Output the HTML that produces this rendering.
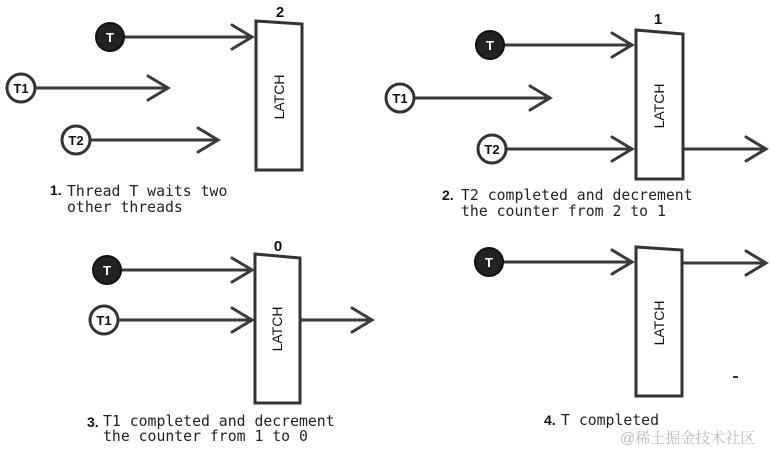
<!DOCTYPE html>
<html><head><style>
body{margin:0;background:#fff;}
svg{display:block}
.m{font-family:"DejaVu Sans Mono","Liberation Mono",monospace;font-size:14.8px;fill:#222}
.n{font-family:"Liberation Sans",sans-serif;font-weight:bold;font-size:15px;fill:#111}
.c{font-family:"Liberation Sans",sans-serif;font-weight:bold;font-size:13px}
.l{font-family:"Liberation Sans",sans-serif;font-size:14px;fill:#111}
</style></head><body>
<svg width="770" height="452" viewBox="0 0 770 452" xmlns="http://www.w3.org/2000/svg">
<defs>
<g id="dk"><circle r="14" fill="#222" stroke="#111" stroke-width="2"/><text class="c" fill="#fff" text-anchor="middle" y="5">T</text></g>
</defs>
<g stroke="#3a3a3a" stroke-width="3" fill="none" stroke-linecap="round">
<path d="M124 37H252M232 25L252 37L232 49"/>
<path d="M35 88H168M148 76L168 88L148 100"/>
<path d="M90 140H218M198 128L218 140L198 152"/>
<path d="M504 45H632M612 33L632 45L612 57"/>
<path d="M414 98H550M530 86L550 98L530 110"/>
<path d="M506 149H632M612 137L632 149L612 161"/>
<path d="M685 149H766M746 137L766 149L746 161"/>
<path d="M121 270H252M232 258L252 270L232 282"/>
<path d="M118 320H252M232 308L252 320L232 332"/>
<path d="M301 320H372M352 308L372 320L352 332"/>
<path d="M503 262H632M612 250L632 262L612 274"/>
<path d="M684 263H766M746 251L766 263L746 275"/>
</g>
<g fill="#fff" stroke="#333" stroke-width="3">
<polygon points="256,21 302,24 302,170 256,170"/>
<polygon points="636,30 683,34 683,179 636,179"/>
<polygon points="255,254 300,258 300,403 255,403"/>
<polygon points="636,247 682,250 682,396 636,396"/>
</g>
<g fill="#fff" stroke="#333" stroke-width="3">
<circle cx="21" cy="88" r="14"/><circle cx="76" cy="140" r="14"/>
<circle cx="400" cy="98" r="14"/><circle cx="492" cy="149" r="14"/>
<circle cx="104" cy="320" r="14"/>
</g>
<g class="c" fill="#111" text-anchor="middle">
<text x="21" y="93">T1</text><text x="76" y="145">T2</text>
<text x="400" y="103">T1</text><text x="492" y="154">T2</text>
<text x="104" y="325">T1</text>
</g>
<use href="#dk" x="110" y="37"/><use href="#dk" x="490" y="45"/>
<use href="#dk" x="107" y="270"/><use href="#dk" x="489" y="262"/>
<g class="n" text-anchor="middle">
<text x="280" y="17">2</text><text x="658" y="24">1</text><text x="278" y="251">0</text>
</g>
<g class="l" text-anchor="middle">
<text transform="translate(284,97) rotate(-90)">LATCH</text>
<text transform="translate(664,106) rotate(-90)">LATCH</text>
<text transform="translate(282,329) rotate(-90)">LATCH</text>
<text transform="translate(664,323) rotate(-90)">LATCH</text>
</g>
<g class="n" style="font-size:14px">
<text x="50" y="195">1.</text><text x="442" y="200">2.</text>
<text x="87" y="427">3.</text><text x="544" y="425">4.</text>
</g>
<g class="m">
<text x="67" y="196">Thread T waits two</text><text x="67" y="212">other threads</text>
<text x="461" y="200">T2 completed and decrement</text><text x="461" y="216">the counter from 2 to 1</text>
<text x="103" y="426">T1 completed and decrement</text><text x="103" y="441">the counter from 1 to 0</text>
<text x="561" y="425">T completed</text>
</g>
<rect x="733" y="376" width="5" height="2" fill="#333"/>
<text x="620" y="443" style="font-family:'Liberation Sans','Noto Serif CJK SC',serif;font-size:15px" fill="#bbb">@稀土掘金技术社区</text>
</svg>
</body></html>
